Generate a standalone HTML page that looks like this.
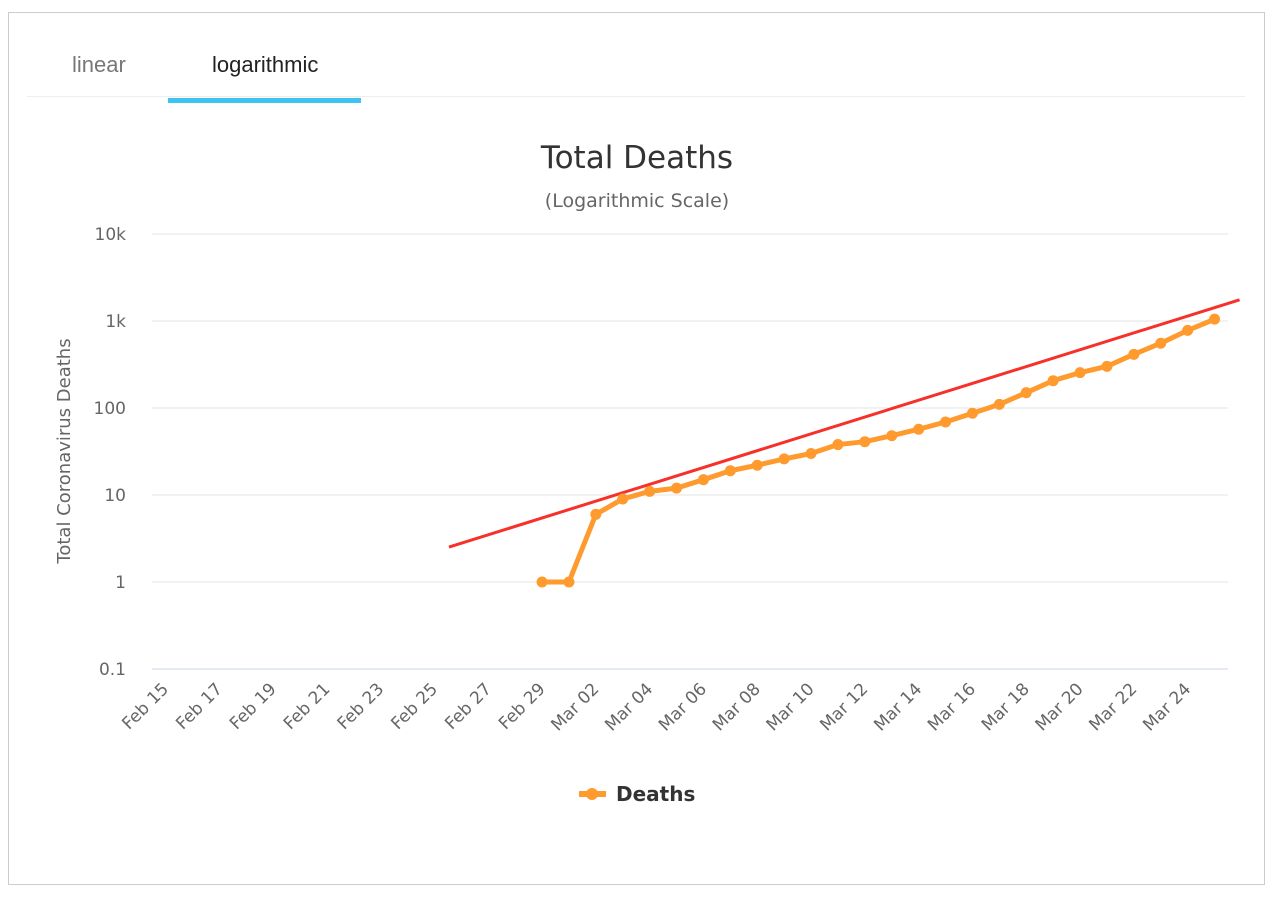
<!DOCTYPE html>
<html><head><meta charset="utf-8"><style>
body{margin:0;background:#fff;width:1280px;height:902px;overflow:hidden;font-family:"Liberation Sans",sans-serif}
#frame{position:absolute;left:8px;top:12px;width:1257px;height:873px;border:1px solid #ccc;box-sizing:border-box}
.tab{position:absolute;top:52px;font-size:22px}
</style></head><body>
<div id="frame"></div>
<div class="tab" style="left:72px;color:#777">linear</div>
<div class="tab" style="left:212px;color:#222">logarithmic</div>
<div style="position:absolute;left:27px;top:96px;width:1218px;height:1px;background:#eee"></div>
<div style="position:absolute;left:168px;top:98px;width:193px;height:5px;background:#3fc3ef"></div>
<svg id="chart" width="1280" height="902" style="position:absolute;left:0;top:0">
<text x="637" y="168" text-anchor="middle" font-size="31" fill="#333" font-family="DejaVu Sans, sans-serif">Total Deaths</text>
<text x="637" y="207" text-anchor="middle" font-size="19" fill="#666" font-family="DejaVu Sans, sans-serif">(Logarithmic Scale)</text>
<text transform="translate(70,451) rotate(-90)" text-anchor="middle" font-size="18" fill="#666" font-family="DejaVu Sans, sans-serif">Total Coronavirus Deaths</text>
<g id="grid"></g><g id="xlab"></g><g id="trend"></g><g id="series"></g>
<g>
<line x1="579" y1="794" x2="606" y2="794" stroke="#ff9a2e" stroke-width="6"/>
<circle cx="592" cy="794" r="6" fill="#ff9a2e"/>
<text x="616" y="801" font-size="20" font-weight="bold" fill="#333" font-family="DejaVu Sans, sans-serif">Deaths</text>
</g>
</svg>
<script>
const categories=["Feb 15","Feb 16","Feb 17","Feb 18","Feb 19","Feb 20","Feb 21","Feb 22","Feb 23","Feb 24","Feb 25","Feb 26","Feb 27","Feb 28","Feb 29","Mar 01","Mar 02","Mar 03","Mar 04","Mar 05","Mar 06","Mar 07","Mar 08","Mar 09","Mar 10","Mar 11","Mar 12","Mar 13","Mar 14","Mar 15","Mar 16","Mar 17","Mar 18","Mar 19","Mar 20","Mar 21","Mar 22","Mar 23","Mar 24","Mar 25"];
const deaths=[null,null,null,null,null,null,null,null,null,null,null,null,null,null,1,1,6,9,11,12,15,19,22,26,30,38,41,48,57,69,87,110,150,206,255,301,414,555,780,1050];
const yTicks=[0.1,1,10,100,1000,10000];
const yTickLabels=["0.1","1","10","100","1k","10k"];
const trendX=[10.54,39.93];
const trendY=[2.52,1750];
const NS="http://www.w3.org/2000/svg";
const L=152,R=1228,yBase=582,dec=87;
const step=(R-L)/categories.length;
const xs=i=>L+step*(i+0.5);
const ys=v=>yBase-Math.log10(v)*dec;
function mk(t,a,p){const e=document.createElementNS(NS,t);for(const k in a)e.setAttribute(k,a[k]);p.appendChild(e);return e;}
const grid=document.getElementById('grid');
yTicks.forEach((v,i)=>{
 const g=mk('line',{x1:L,x2:R,y1:ys(v),y2:ys(v),stroke:i==0?'#ccd6eb':'#e6e6e6','stroke-width':1},grid);
 
 
 const t=mk('text',{x:126,y:ys(v)+6,'text-anchor':'end','font-size':17,fill:'#666','font-family':'DejaVu Sans, sans-serif'},grid);
 t.textContent=yTickLabels[i];
 
 
});
const xl=document.getElementById('xlab');
categories.forEach((c,i)=>{
 if(i%2)return;
 const x=xs(i)+4,y=690;
 const t=mk('text',{x:x,y:y,transform:`rotate(-45 ${x} ${y})`,'text-anchor':'end','font-size':17,fill:'#666','font-family':'DejaVu Sans, sans-serif'},xl);
 t.textContent=c;
 
 
});
const tr=mk('line',{x1:xs(trendX[0]),y1:ys(trendY[0]),x2:xs(trendX[1]),y2:ys(trendY[1]),stroke:'#f7302a','stroke-width':3},document.getElementById('trend'));


const sg=document.getElementById('series');
let d='';
deaths.forEach((v,i)=>{if(v==null)return;d+=(d?'L':'M')+xs(i)+','+ys(v);});
const p=mk('path',{d:d,fill:'none',stroke:'#ff9a2e','stroke-width':5,'stroke-linejoin':'round'},sg);


deaths.forEach((v,i)=>{if(v==null)return;
 const c=mk('circle',{cx:xs(i),cy:ys(v),r:5.5,fill:'#ff9a2e'},sg);
 
 
});
</script>
</body></html>
